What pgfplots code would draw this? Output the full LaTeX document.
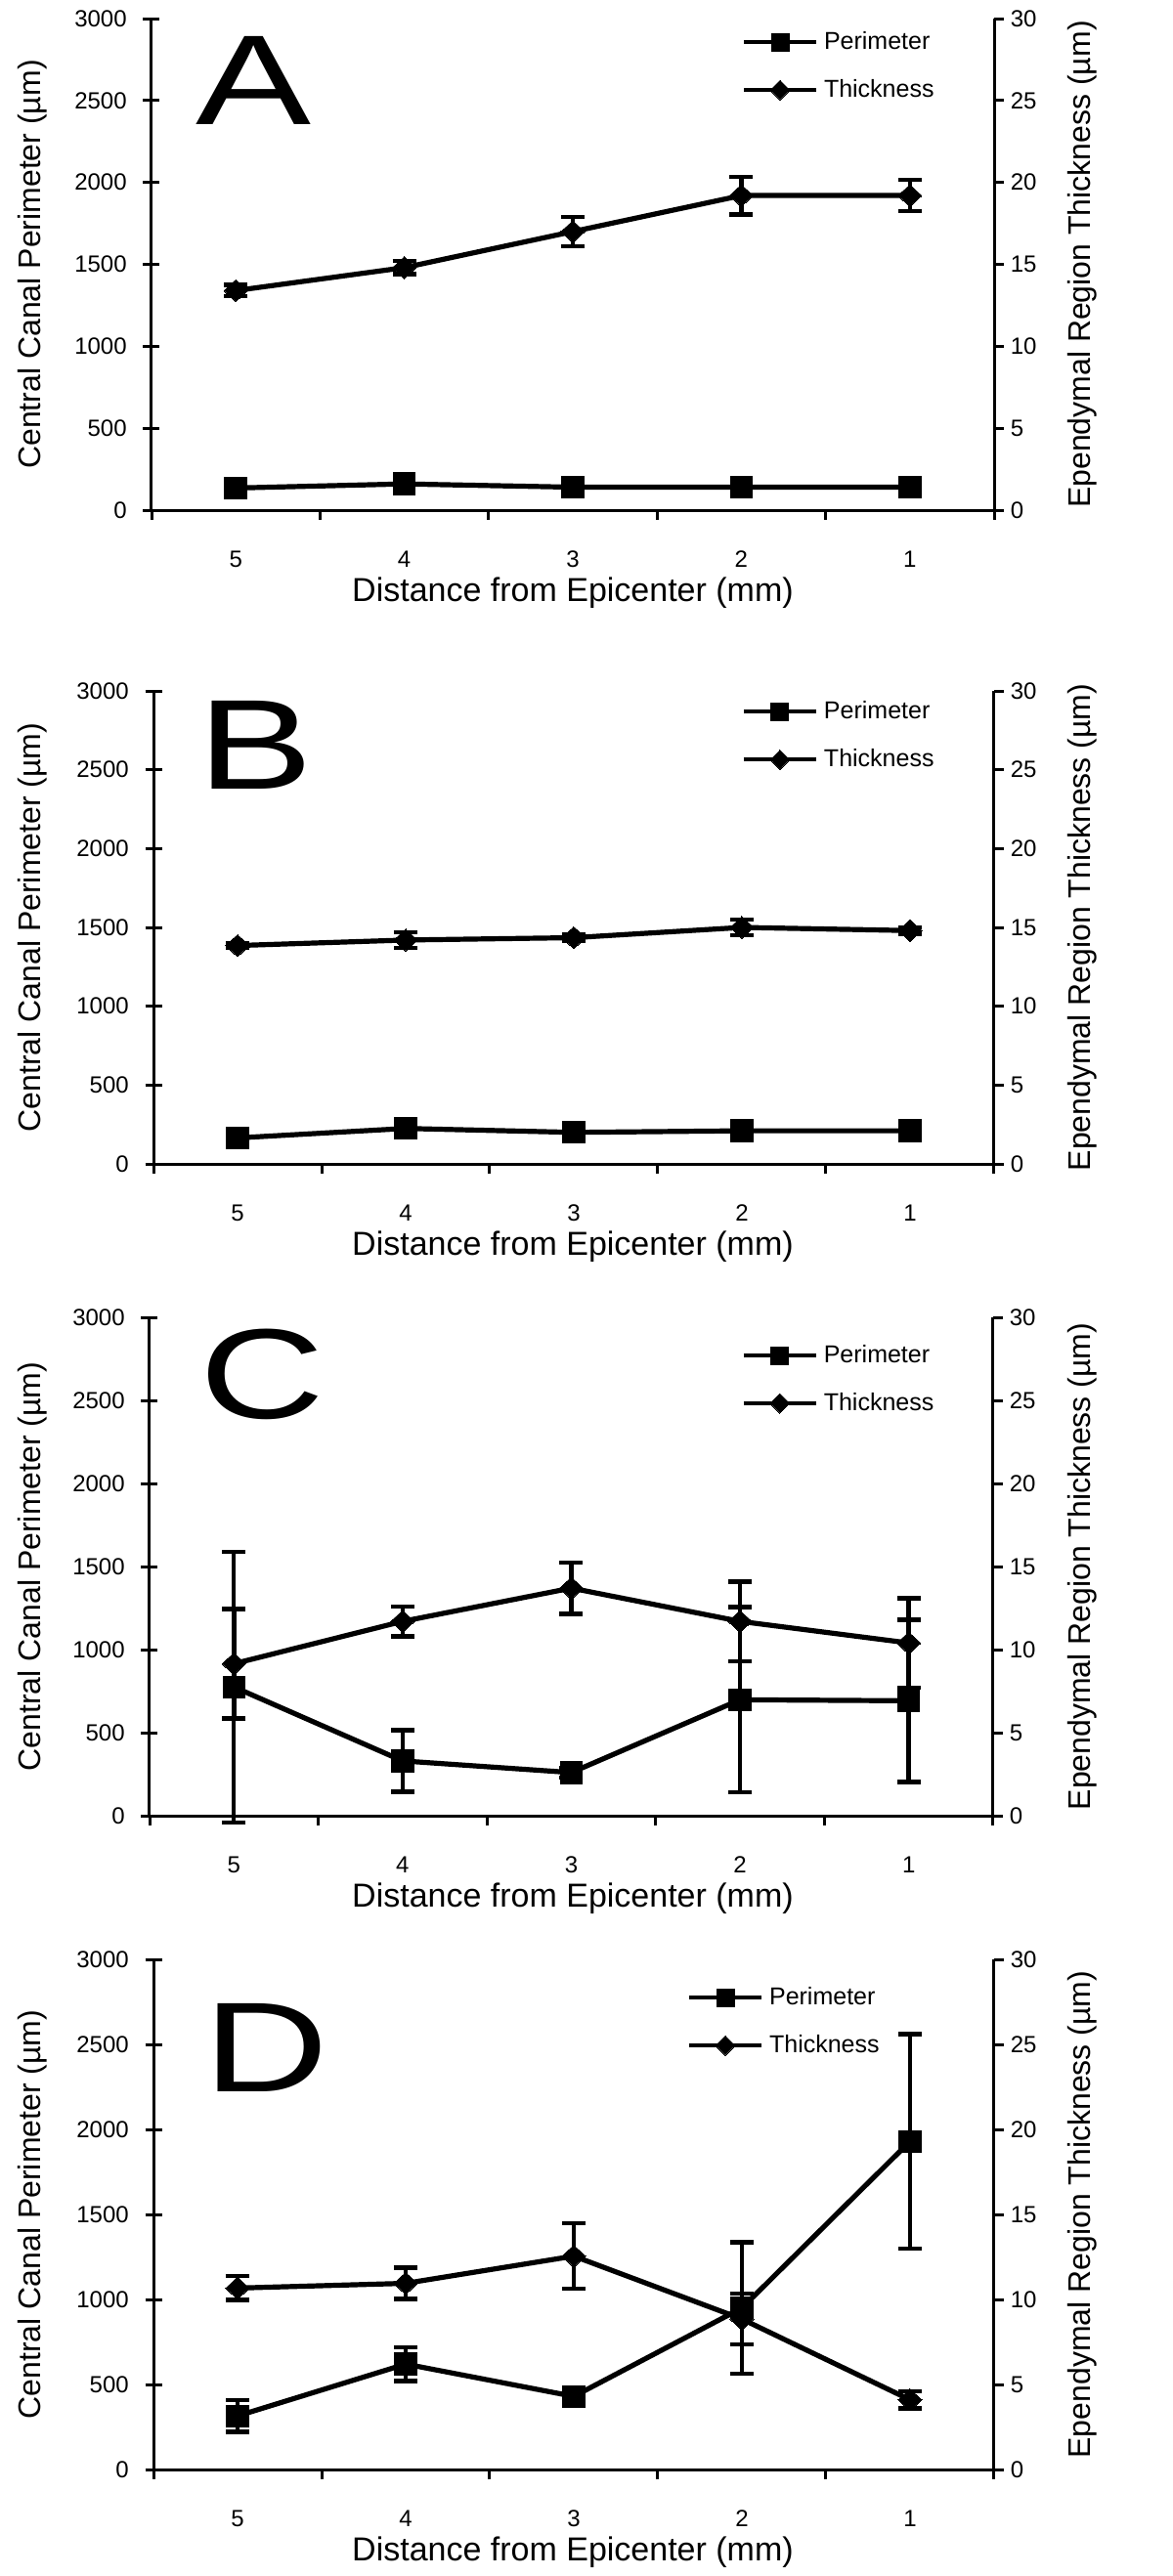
\documentclass[border=0pt]{standalone}
\usepackage{fontspec}
\setmainfont{Liberation Sans}
\usepackage{graphicx}
\usepackage{pgfplots}
\usepackage{pgfplotstable}
\pgfplotsset{compat=1.18}

% x = category position (5,4,3,2,1 mm -> 0.5 ... 4.5); p/pe = perimeter and error; t/te = thickness and error
\pgfplotstableread{
x   p    pe   t     te
0.5 135  0    13.4  0.35
1.5 160  0    14.8  0.4
2.5 140  0    17.0  0.9
3.5 140  0    19.2  1.15
4.5 140  0    19.2  0.95
}\dataA
\pgfplotstableread{
x   p    pe   t     te
0.5 165  0    13.85 0.15
1.5 225  0    14.2  0.5
2.5 200  0    14.35 0.2
3.5 210  0    15.0  0.5
4.5 210  0    14.8  0.2
}\dataB
\pgfplotstableread{
x   p    pe   t     te
0.5 775  815  9.15  3.3
1.5 330  185  11.7  0.9
2.5 260  30   13.7  1.55
3.5 698  558  11.7  2.4
4.5 692  488  10.4  2.7
}\dataC
\pgfplotstableread{
x   p    pe   t     te
0.5 315  93   10.67 0.7
1.5 620  100  10.95 0.93
2.5 430  40   12.55 1.93
3.5 950  386  8.85  1.5
4.5 1930 630  4.1   0.5
}\dataD

\pgfplotsset{
  perim/.style={black, line width=1.3pt, mark=square*, mark size=2.8pt,
    mark options={solid, fill=black, line width=0pt}},
  thick/.style={black, line width=1.3pt, mark=diamond*, mark size=2.8pt,
    mark options={solid, fill=black, xscale=1.45, line width=0pt}},
  errs/.style={error bars/.cd, y dir=both, y explicit,
    error bar style={line width=1.1pt, black},
    error mark options={rotate=90, line width=1.1pt, black, mark size=3pt}},
  legend image code/.code={\draw[mark repeat=2,mark phase=2,#1]
    plot coordinates {(0pt,0pt) (9.25pt,0pt) (18.5pt,0pt)};},
  panel/.style={scale only axis, anchor=south west, xmin=0, xmax=5, clip=false,
    /pgf/number format/assume math mode=true,
    /pgf/number format/1000 sep={},
    ticklabel style={font=\fontsize{6}{7}\selectfont},
    axis line style={line width=0.75pt, black},
    tick style={line width=0.75pt, black}},
  leftax/.style={panel, ymin=0, ymax=3000, ytick={0,500,...,3000},
    axis y line*=left, axis x line*=bottom, tick align=center,
    major tick length=4.25pt,
    xtick={0.5,1.5,2.5,3.5,4.5}, xticklabels={5,4,3,2,1},
    major x tick style={draw=none},
    yticklabel style={anchor=east, inner sep=0pt, xshift=-4pt},
    xticklabel style={anchor=base, inner sep=0pt, yshift=-12.5pt}},
  rightax/.style={panel, ymin=0, ymax=30, ytick={0,5,...,30},
    axis y line*=right, axis x line*=bottom, x axis line style={draw=none},
    tick align=outside, major tick length=2.5pt,
    xtick={0,1,2,3,4,5}, xticklabels={},
    yticklabel style={anchor=west, inner sep=0pt, xshift=1.5pt},
    legend style={draw=none, fill=none, inner sep=0pt, outer sep=0pt,
      anchor=north west, font=\fontsize{6.25}{7}\selectfont,
      row sep=5.75pt, column sep=1.5pt, cells={anchor=west},
      nodes={inner sep=0pt, text height=5pt, text depth=1.5pt}}},
  legP/.style={perim, line width=1pt, mark size=2.25pt},
  legT/.style={thick, line width=1pt, mark size=2.5pt, mark options={solid, fill=black, xscale=1.33, line width=0pt}},
}
\tikzset{letter/.style={anchor=base west, inner sep=0pt, font=\fontsize{32.75}{33}\selectfont},
  ylab/.style={rotate=90, anchor=center, inner sep=0pt, font=\fontsize{8}{9}\selectfont},
  xlab/.style={anchor=base, inner sep=0pt, font=\fontsize{8.5}{9}\selectfont}}

\begin{document}
\begin{tikzpicture}
\path[use as bounding box] (0pt,0pt) rectangle (300pt,-659pt);

% ---------------- Panel A
\begin{axis}[leftax, at={(38.75pt,-130.5pt)}, width=215.5pt, height=125.75pt]
\addplot[perim] table[x=x,y=p]{\dataA};
\node[letter] at (rel axis cs:0.052,0.785) {\scalebox{1.35}[1]{A}};
\end{axis}
\begin{axis}[rightax, at={(38.75pt,-130.5pt)}, width=215.5pt, height=125.75pt,
  legend style={at={(0.7007,0.978)}}]
\addlegendimage{legP}\addlegendentry{Perimeter}
\addlegendimage{legT}\addlegendentry{Thickness}
\addplot[thick, errs] table[x=x,y=t,y error=te]{\dataA};
\end{axis}
\node[ylab] at (8.25pt,-67.625pt) {Central Canal Perimeter (µm)};
\node[ylab] at (276.75pt,-67.625pt) {Ependymal Region Thickness (µm)};
\node[xlab] at (146.5pt,-153.75pt) {Distance from Epicenter (mm)};

% ---------------- Panel B
\begin{axis}[leftax, at={(39.25pt,-297.75pt)}, width=215pt, height=121pt]
\addplot[perim] table[x=x,y=p]{\dataB};
\node[letter] at (rel axis cs:0.052,0.793) {\scalebox{1.35}[1]{B}};
\end{axis}
\begin{axis}[rightax, at={(39.25pt,-297.75pt)}, width=215pt, height=121pt,
  legend style={at={(0.70,0.983)}}]
\addlegendimage{legP}\addlegendentry{Perimeter}
\addlegendimage{legT}\addlegendentry{Thickness}
\addplot[thick, errs] table[x=x,y=t,y error=te]{\dataB};
\end{axis}
\node[ylab] at (8.25pt,-237.25pt) {Central Canal Perimeter (µm)};
\node[ylab] at (276.75pt,-237.25pt) {Ependymal Region Thickness (µm)};
\node[xlab] at (146.5pt,-321pt) {Distance from Epicenter (mm)};

% ---------------- Panel C
\begin{axis}[leftax, at={(38.25pt,-464.5pt)}, width=215.75pt, height=127.5pt]
\addplot[perim, errs] table[x=x,y=p,y error=pe]{\dataC};
\node[letter] at (rel axis cs:0.059,0.798) {\scalebox{1.35}[1]{C}};
\end{axis}
\begin{axis}[rightax, at={(38.25pt,-464.5pt)}, width=215.75pt, height=127.5pt,
  legend style={at={(0.702,0.949)}}]
\addlegendimage{legP}\addlegendentry{Perimeter}
\addlegendimage{legT}\addlegendentry{Thickness}
\addplot[thick, errs] table[x=x,y=t,y error=te]{\dataC};
\end{axis}
\node[ylab] at (8.25pt,-400.75pt) {Central Canal Perimeter (µm)};
\node[ylab] at (276.75pt,-400.75pt) {Ependymal Region Thickness (µm)};
\node[xlab] at (146.5pt,-487.75pt) {Distance from Epicenter (mm)};

% ---------------- Panel D
\begin{axis}[leftax, at={(39.25pt,-631.75pt)}, width=215pt, height=130.5pt]
\addplot[perim, errs] table[x=x,y=p,y error=pe]{\dataD};
\node[letter] at (rel axis cs:0.059,0.741) {\scalebox{1.35}[1]{D}};
\end{axis}
\begin{axis}[rightax, at={(39.25pt,-631.75pt)}, width=215pt, height=130.5pt,
  legend style={at={(0.635,0.950)}}]
\addlegendimage{legP}\addlegendentry{Perimeter}
\addlegendimage{legT}\addlegendentry{Thickness}
\addplot[thick, errs] table[x=x,y=t,y error=te]{\dataD};
\end{axis}
\node[ylab] at (8.25pt,-566.5pt) {Central Canal Perimeter (µm)};
\node[ylab] at (276.75pt,-566.5pt) {Ependymal Region Thickness (µm)};
\node[xlab] at (146.5pt,-655pt) {Distance from Epicenter (mm)};
\end{tikzpicture}
\end{document}
